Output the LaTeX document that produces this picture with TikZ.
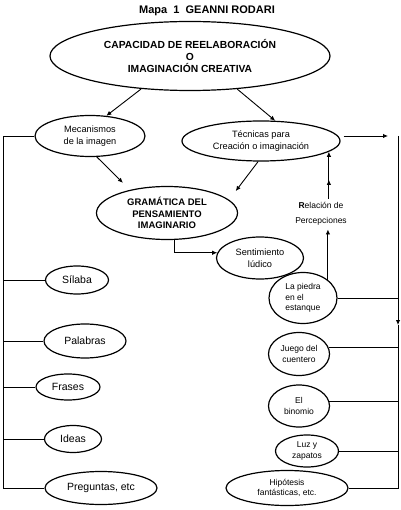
\documentclass[tikz,border=0pt]{standalone}
\usepackage{fontspec}
\setmainfont{Liberation Sans}
\usetikzlibrary{arrows.meta,positioning,shapes.geometric,decorations.markings}

\begin{document}
\begin{tikzpicture}[x=1pt, y=-1pt,
    every node/.style={font=\fontsize{9.2}{12.5}\selectfont},
    idea/.style={ellipse, draw, line width=1.2pt, inner sep=0pt, align=center},
    small/.style={font=\fontsize{8.5}{10.5}\selectfont},
    large/.style={font=\fontsize{10.5}{12}\selectfont},
    head/.style={font=\bfseries\fontsize{9.5}{11.8}\selectfont},
    link/.style={line width=0.9pt},
    arr/.style={link, -{Latex[length=5pt,width=4.5pt]}},
    midarr/.style={link, postaction={decorate}, decoration={markings,
        mark=at position #1 with {\arrow{Latex[length=5pt,width=4.5pt]}}}}]

    \useasboundingbox (0,0) rectangle (400,510);

    %% Title
    \node[font=\bfseries\fontsize{11}{12}\selectfont] (title) at (207,11)
      {Mapa\ \ 1\ \ GEANNI RODARI};

    %% Central concepts
    \node[idea, head, font=\bfseries\fontsize{10.3}{11.8}\selectfont,
          minimum width=280pt, minimum height=69pt] (cap) at (190,56)
      {CAPACIDAD DE REELABORACIÓN\\O\\IMAGINACIÓN CREATIVA};
    \node[idea, minimum width=110pt, minimum height=41pt] (mec) at (90,136)
      {Mecanismos\\de la imagen};
    \node[idea, minimum width=158pt, minimum height=40pt] (tec) at (261,141)
      {Técnicas para\\Creación o imaginación};
    \node[idea, head, minimum width=141pt, minimum height=53pt] (gram) at (167,213)
      {GRAMÁTICA DEL\\PENSAMIENTO\\IMAGINARIO};
    \node[idea, minimum width=87pt, minimum height=42pt] (sent) at (260,258)
      {Sentimiento\\lúdico};
    \node[small, align=center, inner sep=4pt] (rel) at (321,214)
      {\textbf{R}elación de\\[4pt]Percepciones};

    %% Left column
    \node[idea, large, minimum width=63pt, minimum height=28pt] (sil) at (77,280) {Sílaba};
    \node[idea, large, minimum width=82pt, minimum height=34pt] (pal) at (85,341) {Palabras};
    \node[idea, large, minimum width=64pt, minimum height=26pt] (fra) at (68,387) {Frases};
    \node[idea, large, minimum width=57pt, minimum height=27pt] (ide) at (73,439) {Ideas};
    \node[idea, large, minimum width=112pt, minimum height=33pt] (pre) at (101,488) {Preguntas, etc};

    %% Right column
    \node[idea, small, align=left, minimum width=68pt, minimum height=51pt] (pied) at (303,298)
      {La piedra\\en el\\estanque};
    \node[idea, small, minimum width=61pt, minimum height=43pt] (jue) at (299,354)
      {Juego del\\cuentero};
    \node[idea, small, minimum width=61pt, minimum height=42pt] (bin) at (299,406)
      {El\\binomio};
    \node[idea, small, minimum width=63pt, minimum height=32pt] (luz) at (307,451)
      {Luz y\\zapatos};
    \node[idea, small, minimum width=122pt, minimum height=35pt] (hip) at (287,488)
      {Hipótesis\\fantásticas, etc.};

    %% Side rails
    \coordinate (ltop) at (3,136);
    \coordinate (lbot) at (3,488);
    \coordinate (rtop) at (398,136);
    \coordinate (rmid) at (398,325);
    \coordinate (rbot) at (398,488);

    %% Arrows
    \draw[arr] (cap.214) -- (mec.51);
    \draw[arr] (cap.-35) -- (tec.55);
    \draw[arr, shorten >=10pt] (mec.-72) -- (gram.148);
    \draw[arr, shorten >=11pt] (tec.-98) -- (gram.12);
    \draw[arr] (gram.-75) |- (sent.173);
    \draw[arr, shorten <=3pt, shorten >=10pt] (tec.east |- rtop) -- (rtop);
    \draw[arr] (pied.36) -- (pied.36 |- rel.south);
    \draw[arr, midarr=0.4] (tec.-9 |- rel.north) -- (tec.-9);

    %% Left rail
    \draw[link] (mec.west) -- (ltop) -- (lbot) -- (pre.west);
    \draw[link] (ltop |- sil.west) -- (sil.west);
    \draw[link] (ltop |- pal.west) -- (pal.west);
    \draw[link] (ltop |- fra.west) -- (fra.west);
    \draw[link] (ltop |- ide.west) -- (ide.west);

    %% Right rail
    \draw[arr] (rtop) -- (rmid);
    \draw[link] (rmid) -- (rbot) -- (hip.east);
    \draw[link] (pied.east) -- (pied.east -| rtop);
    \draw[link] (jue.12) -- (jue.12 -| rtop);
    \draw[link] (bin.8) -- (bin.8 -| rtop);
    \draw[link] (luz.east) -- (luz.east -| rtop);
  \end{tikzpicture}
\end{document}
